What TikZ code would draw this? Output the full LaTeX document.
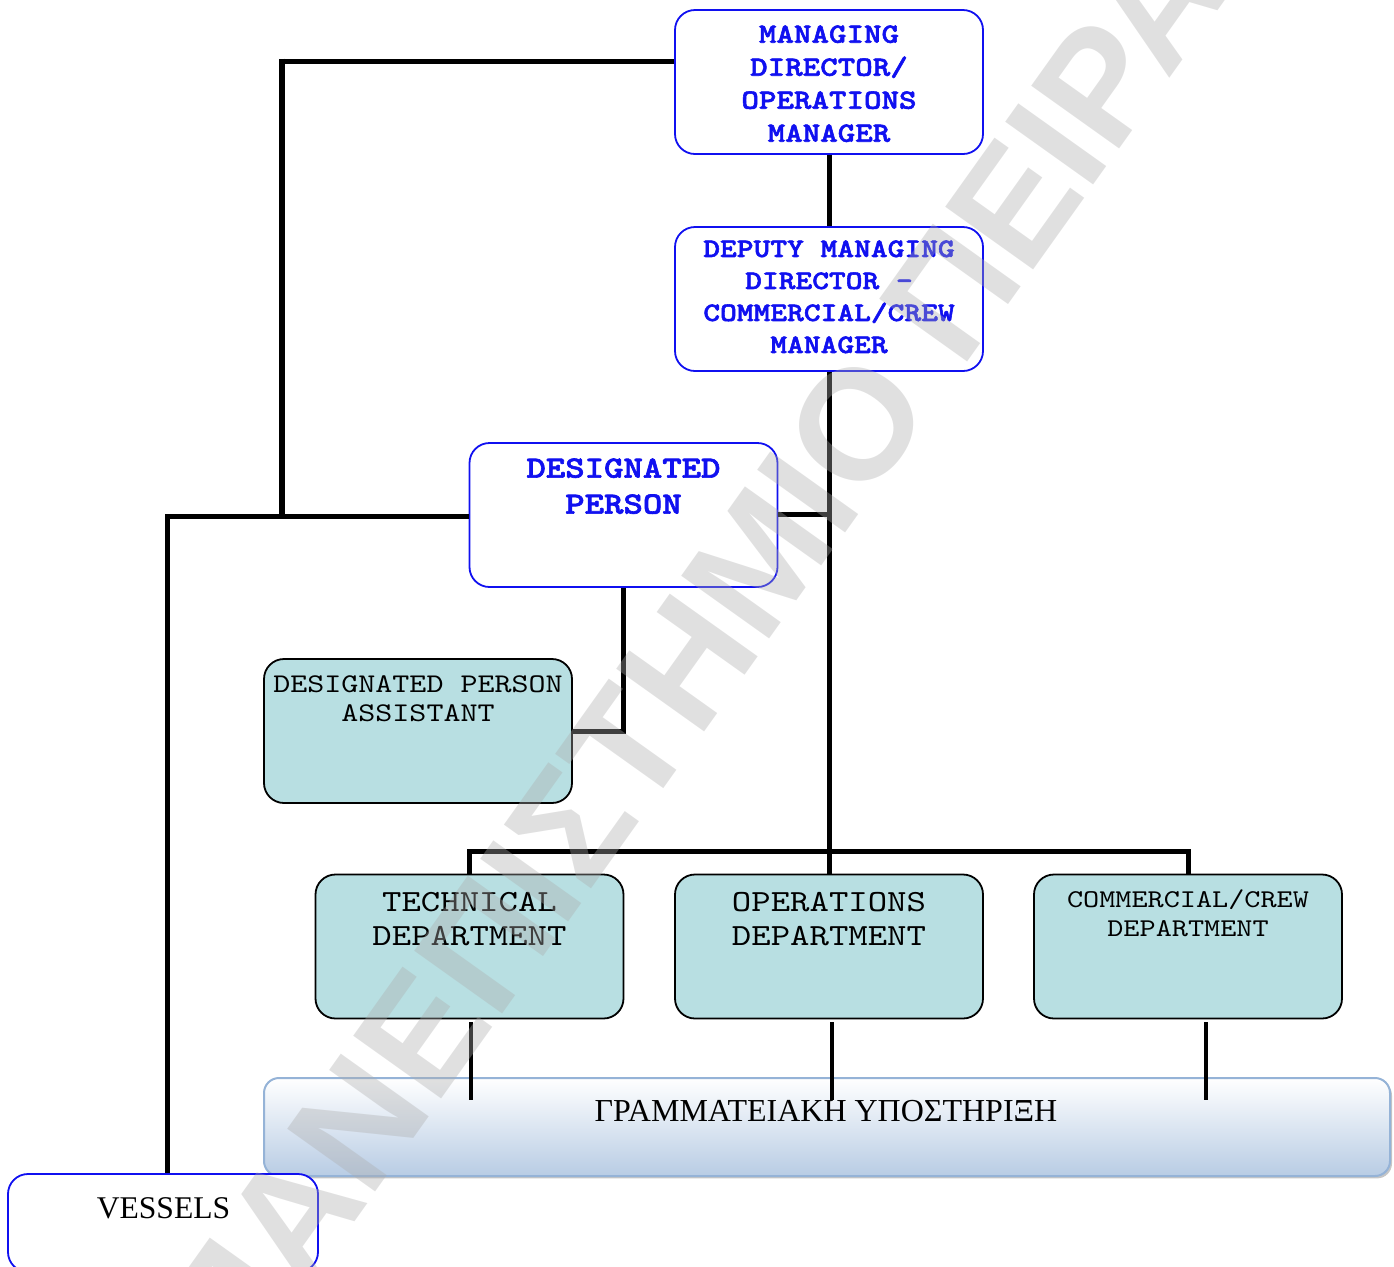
\documentclass[tikz,border=0pt]{standalone}
\usepackage{fontspec}
\setmainfont{Liberation Serif}
\newfontfamily\courfont{lmmono10-regular.otf}[FakeStretch=1.2,
  BoldFont=lmmonolt10-bold.otf, BoldFeatures={FakeStretch=1.2, FakeBold=2}]
\newfontfamily\wmfont{Liberation Sans}
\usetikzlibrary{shadows}
\definecolor{boxblue}{RGB}{16,16,240}
\definecolor{deptfill}{RGB}{184,223,226}
\definecolor{barblue}{RGB}{184,204,228}
\definecolor{barline}{RGB}{149,179,215}
\definecolor{wmgray}{RGB}{172,172,172}

\begin{document}
\begin{tikzpicture}[x=0.5pt,y=-0.5pt,
  mgrbox/.style={draw=boxblue, line width=0.9pt, rounded corners=10pt, fill=white,
    minimum width=154pt, minimum height=72pt, inner sep=0pt},
  deptbox/.style={draw=black, line width=0.9pt, rounded corners=10pt, fill=deptfill,
    minimum width=154pt, minimum height=72pt, inner sep=0pt},
  mgrtext/.style={text=boxblue, font=\courfont\bfseries\fontsize{13.9}{16.5}\selectfont,
    align=center, inner sep=0pt, anchor=north},
  depttext/.style={text=black, font=\courfont\fontsize{15.4}{17}\selectfont,
    align=center, inner sep=0pt, anchor=north},
  seriftext/.style={text=black, inner sep=0pt, anchor=north},
  link/.style={draw=black, line width=2.5pt},
]
\useasboundingbox (0,0) rectangle (1394,1266);
\clip (0,0) rectangle (1394,1266);

% management boxes
\node[mgrbox] (md) at (829,82) {};
\node[mgrtext] (mdtext) at (829,25) {MANAGING\\DIRECTOR/\\OPERATIONS\\MANAGER};
\node[mgrbox] (dmd) at (829,299) {};
\node[mgrtext, font=\courfont\bfseries\fontsize{13.3}{16}\selectfont] (dmdtext) at (829,240)
  {DEPUTY MANAGING\\DIRECTOR –\\COMMERCIAL/CREW\\MANAGER};
\node[mgrbox] (dp) at (623.5,515) {};
\node[mgrtext, font=\courfont\bfseries\fontsize{15.4}{18}\selectfont] (dptext) at (623.5,458)
  {DESIGNATED\\PERSON};

% departments
\node[deptbox] (dpa) at (418,731) {};
\node[depttext, font=\courfont\fontsize{13.5}{14.5}\selectfont] (dpatext) at (418,675)
  {DESIGNATED PERSON\\ASSISTANT};
\node[deptbox] (tech) at (469.5,946.5) {};
\node[depttext] (techtext) at (469.5,892) {TECHNICAL\\DEPARTMENT};
\node[deptbox] (ops) at (829,946.5) {};
\node[depttext] (opstext) at (829,892) {OPERATIONS\\DEPARTMENT};
\node[deptbox] (comm) at (1188,946.5) {};
\node[depttext, font=\courfont\fontsize{12.8}{14.5}\selectfont] (commtext) at (1188,889)
  {COMMERCIAL/CREW\\DEPARTMENT};

% secretarial support bar
\node[draw=barline, line width=1pt, rounded corners=7.5pt, top color=white, bottom color=barblue,
  minimum width=563pt, minimum height=49pt, inner sep=0pt,
  drop shadow={shadow xshift=1pt, shadow yshift=-1.2pt, opacity=0.45, fill=gray}] (bar) at (827,1127) {};
\node[seriftext, font=\fontsize{16}{18}\selectfont] (bartext) at (826,1100) {ΓΡΑΜΜΑΤΕΙΑΚΗ ΥΠΟΣΤΗΡΙΞΗ};

% vessels
\node[mgrbox, minimum width=155pt, minimum height=49pt] (vessels) at (163,1223) {};
\node[seriftext, font=\fontsize{15.8}{18}\selectfont] (vesselstext) at (163.5,1197) {VESSELS};

% connectors
\coordinate (ja) at (282,61);
\coordinate (jb) at (282,516);
\coordinate (jc) at (167,516);
\coordinate (jd) at (829,851);
\coordinate (je) at (829,514);
\coordinate (jf) at (623.5,731);
\coordinate (ta) at (471,1100);
\coordinate (tb) at (832,1100);
\coordinate (tc) at (1206,1100);

\draw[link] (md.west |- ja) -- (ja);
\draw[link, line width=3.4pt] ([yshift=1.2pt]ja) -- (jb);
\draw[link] (dp.west |- jb) -- (jc) -- (jc |- vessels.north);
\draw[link] (md) -- (dmd);
\draw[link] (dmd.south) -- (jd) -- (ops.north);
\draw[link] (dp.east |- je) -- (je);
\draw[link] (dp.south) -- (jf) -- (dpa.east);
\draw[link] (tech.north) -- (tech.north |- jd) -- (comm.north |- jd) -- (comm.north);
\draw[link, line width=2.2pt] ([yshift=-1.5pt]ta |- tech.south) -- (ta);
\draw[link, line width=2.2pt] ([yshift=-1.5pt]tb |- ops.south) -- (tb);
\draw[link, line width=2.2pt] ([yshift=-1.5pt]tc |- comm.south) -- (tc);

% watermark
\node[rotate=54.5, font=\wmfont\bfseries\fontsize{78.5}{81}\selectfont, text=wmgray, opacity=0.37,
  anchor=base west, inner sep=0pt] (wm) at (238,1385) {ΠΑΝΕΠΙΣΤΗΜΙΟ ΠΕΙΡΑΙΩΣ};
\end{tikzpicture}
\end{document}
